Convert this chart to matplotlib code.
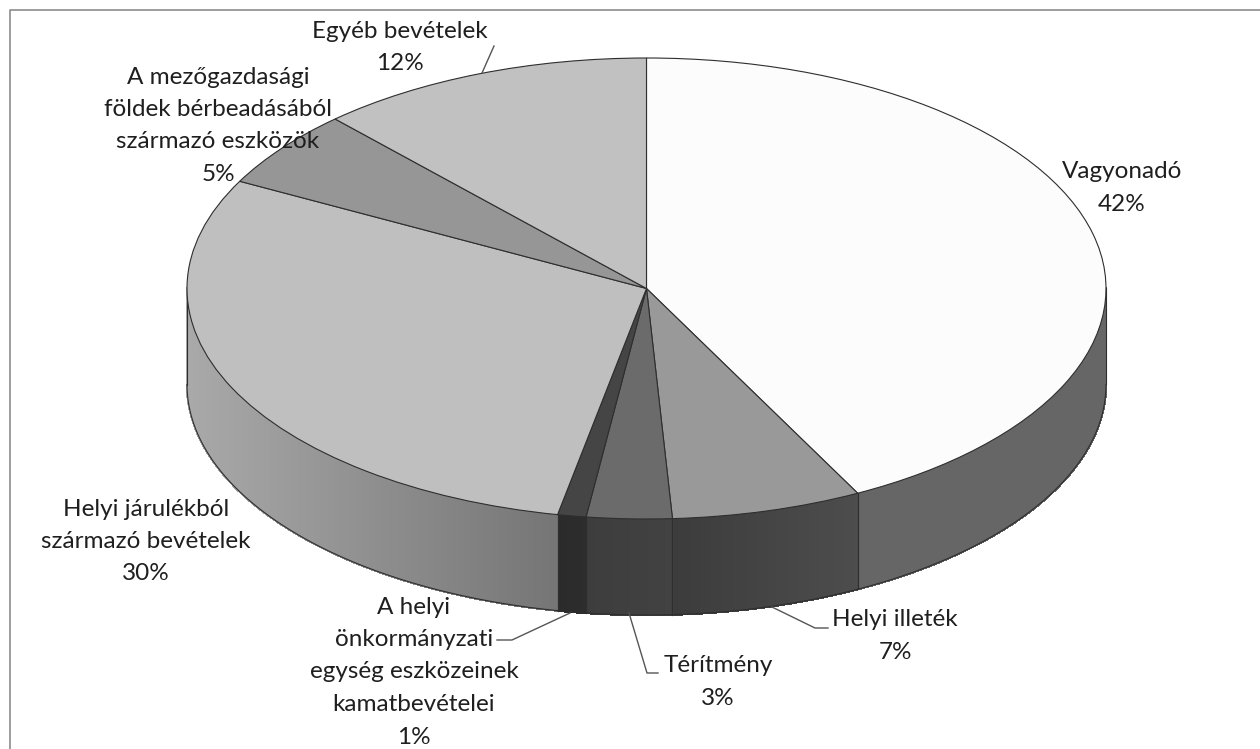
import matplotlib
matplotlib.use("Agg")
import matplotlib.pyplot as plt
import numpy as np
from matplotlib.collections import PolyCollection

labels = ["Vagyonadó", "Helyi illeték", "Térítmény",
          "A helyi\nönkormányzati\negység eszközeinek\nkamatbevételei",
          "Helyi járulékból\nszármazó bevételek",
          "A mezőgazdasági\nföldek bérbeadásából\nszármazó eszközök",
          "Egyéb bevételek"]
values = [42.4, 6.7, 3.0, 1.0, 29.6, 5.45, 11.85]
top_colors = ["#fcfcfc", "#999999", "#6b6b6b", "#454545", "#bfbfbf", "#969696", "#c1c1c1"]
side_start = ["#666666", "#4d4d4d", "#424242", "#2d2d2d", "#757575", "#666666", "#808080"]
side_end = ["#666666", "#3c3c3c", "#3d3d3d", "#2b2b2b", "#a9a9a9", "#666666", "#808080"]
label_xy = [(1122, 171), (895, 619), (718, 665), (414, 606), (146, 508), (218, 76), (400, 30)]
leaders = [None, [(772, 607), (815, 628), (828, 628)], [(629, 613), (647, 673), (658, 673)],
           [(570, 613), (512, 640), (497, 640)], None, None, [(482, 73), (494, 46)]]

W, H = 1260, 749
CX, CY, RX, RY, DEPTH = 646.5, 288.5, 459.5, 230.5, 96
EDGE = "#2e2e2e"
LW = 0.8

fig = plt.figure(figsize=(W / 100, H / 100), dpi=100, facecolor="white")
ax = fig.add_axes([0, 0, 1, 1])
ax.pie(values, colors=top_colors, startangle=90, counterclock=False, radius=1,
       wedgeprops=dict(edgecolor=EDGE, linewidth=LW, zorder=3))
ax.set_aspect("auto")
ax.set_xlim(-CX / RX, (W - CX) / RX)
ax.set_ylim((CY - H) / RY, CY / RY)
ax.axis("off")

def hexrgb(h):
    return np.array(matplotlib.colors.to_rgb(h))

# extruded side of the disc, from the same shares
d = DEPTH / RY
edges = np.concatenate([[0], np.cumsum(values)]) / sum(values) * 2 * np.pi
for i in range(len(values)):
    a0, a1 = max(edges[i], np.pi / 2), min(edges[i + 1], 3 * np.pi / 2)
    if a1 <= a0:
        continue
    n = max(2, int((a1 - a0) * 160))
    t = np.linspace(a0, a1, n + 1)
    x, y = np.sin(t), np.cos(t)
    quads, cols = [], []
    x_first, x_last = x[0], x[-1]
    for j in range(n):
        quads.append([(x[j], y[j]), (x[j + 1], y[j + 1]), (x[j + 1], y[j + 1] - d), (x[j], y[j] - d)])
        f = (x_first - 0.5 * (x[j] + x[j + 1])) / (x_first - x_last)
        cols.append(hexrgb(side_start[i]) * (1 - f) + hexrgb(side_end[i]) * f)
    ax.add_collection(PolyCollection(quads, facecolors=cols, edgecolors=cols, linewidths=1.0,
                                     antialiaseds=False, zorder=1))
    ax.plot(x, y - d, color=EDGE, lw=LW, zorder=2)
    ax.plot([x[0], x[0]], [y[0], y[0] - d], color=EDGE, lw=LW, zorder=2)
    ax.plot([x[-1], x[-1]], [y[-1], y[-1] - d], color=EDGE, lw=LW, zorder=2)

# pixel-space overlay for frame, labels and leader lines
ov = fig.add_axes([0, 0, 1, 1], facecolor="none")
ov.set_xlim(0, W)
ov.set_ylim(H, 0)
ov.axis("off")
ov.plot([9.5, 9.5, W], [H, 9.5, 9.5], color="#8c8c8c", lw=1.2)

LINE = 32.5
for name, v, (lx, ly), lead in zip(labels, values, label_xy, leaders):
    for k, part in enumerate((name + f"\n{round(v)}%").split("\n")):
        ov.text(lx, ly + 7.5 + k * LINE, part, ha="center", va="baseline", family="Lato",
                fontsize=17.5, color="#1f1f1f", zorder=6)
    if lead:
        xs, ys = zip(*lead)
        ov.plot(xs, ys, color="#555555", lw=1.0, zorder=5)

fig.savefig("out.png", dpi=100)
